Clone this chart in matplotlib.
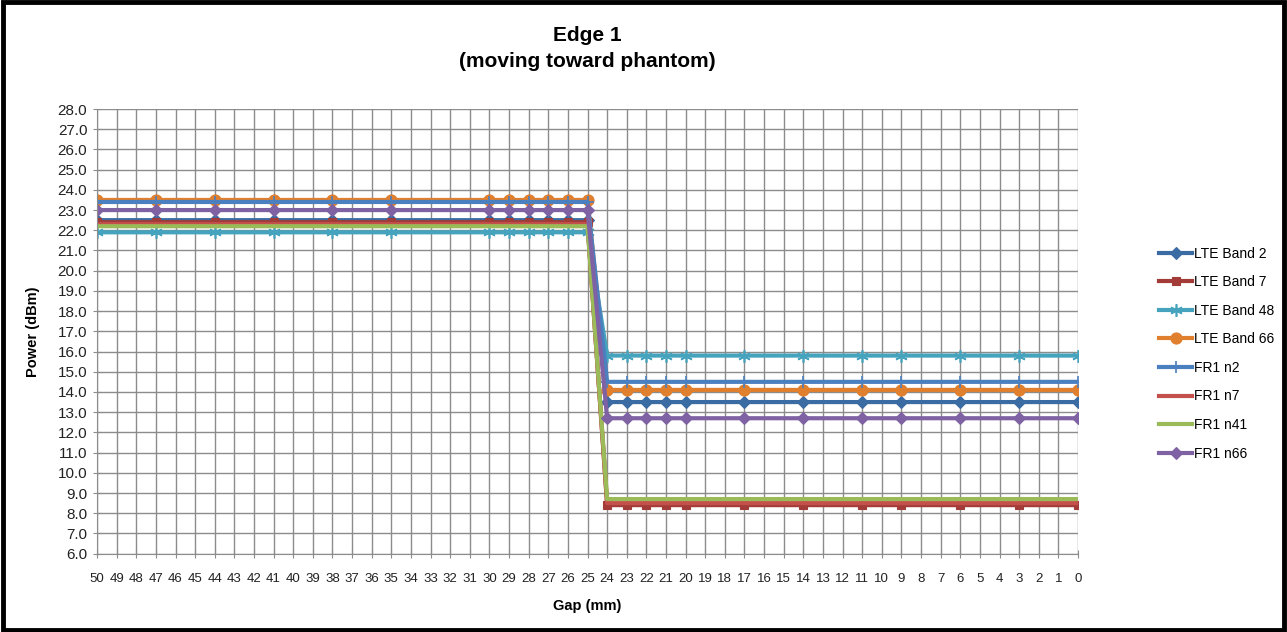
import matplotlib
matplotlib.use("Agg")
import matplotlib.pyplot as plt
from matplotlib.patches import Rectangle

gap = [50, 47, 44, 41, 38, 35, 30, 29, 28, 27, 26, 25,
       24, 23, 22, 21, 20, 17, 14, 11, 9, 6, 3, 0]

lte_b2 = [22.5] * 12 + [13.5] * 12
lte_b7 = [22.4] * 12 + [8.4] * 12
lte_b48 = [21.9] * 12 + [15.8] * 12
lte_b66 = [23.5] * 12 + [14.1] * 12
fr1_n2 = [23.4] * 12 + [14.5] * 12
fr1_n7 = [22.3] * 12 + [8.5] * 12
fr1_n41 = [22.2] * 12 + [8.7] * 12
fr1_n66 = [23.0] * 12 + [12.7] * 12

names = ["LTE Band 2", "LTE Band 7", "LTE Band 48", "LTE Band 66",
         "FR1 n2", "FR1 n7", "FR1 n41", "FR1 n66"]
series = [lte_b2, lte_b7, lte_b48, lte_b66, fr1_n2, fr1_n7, fr1_n41, fr1_n66]
colors = ["#3a6ba3", "#a33b38", "#45a3bd", "#e07f2e",
          "#4a80c0", "#c4504c", "#9bbb59", "#7f62a3"]
markers = ["D", "s", (6, 2, 0), "o", "+", None, None, "D"]
msizes = [6, 6, 9, 8, 9, 0, 0, 6]


def main():
    plt.rcParams['font.family'] = ['Liberation Sans', 'DejaVu Sans']
    fig = plt.figure(figsize=(12.87, 6.32), dpi=100)
    ax = fig.add_axes([0.0754, 0.124, 0.7622, 0.7035])

    for name, vals, col, mk, ms in zip(names, series, colors, markers, msizes):
        ax.plot(gap, vals, color=col, lw=3, marker=mk, markersize=ms,
                markeredgewidth=1.2 if mk in ("+", (6, 2, 0)) else 0.8,
                label=name, solid_joinstyle="round")

    ax.set_xlim(50, 0)
    ax.set_ylim(6, 28)
    ax.set_xticks(range(50, -1, -1))
    ax.set_yticks(range(6, 29))
    ax.set_yticklabels([f"{v:.1f}" for v in range(6, 29)])
    ax.grid(True, color="#8c8c8c", lw=1)
    ax.set_axisbelow(True)
    for s in ["top", "right"]:
        ax.spines[s].set_visible(False)
    for s in ["left", "bottom"]:
        ax.spines[s].set_color("#8c8c8c")
    ax.tick_params(axis="both", direction="inout", length=6, color="#8c8c8c",
                   labelcolor="#222222")
    ax.tick_params(axis="y", labelsize=11, pad=4)
    ax.tick_params(axis="x", labelsize=9.5, pad=11)

    ax.set_xlabel("Gap (mm)", fontsize=10.5, fontweight="bold", labelpad=10)
    ax.set_ylabel("Power (dBm)", fontsize=10.5, fontweight="bold", labelpad=13)
    ax.set_title("Edge 1\n(moving toward phantom)", fontsize=15,
                 fontweight="bold", pad=30, linespacing=1.5)

    ax.legend(loc="center left", bbox_to_anchor=(1.07, 0.45), frameon=False,
              fontsize=10, handlelength=2.4, handletextpad=0.1,
              labelspacing=1.05)

    fig.patches.append(Rectangle((0.002, 0.003), 0.996, 0.994,
                                 transform=fig.transFigure, fill=False,
                                 edgecolor="black", lw=3.5))

    fig.savefig("out.png", dpi=100)


if __name__ == '__main__':
    main()
